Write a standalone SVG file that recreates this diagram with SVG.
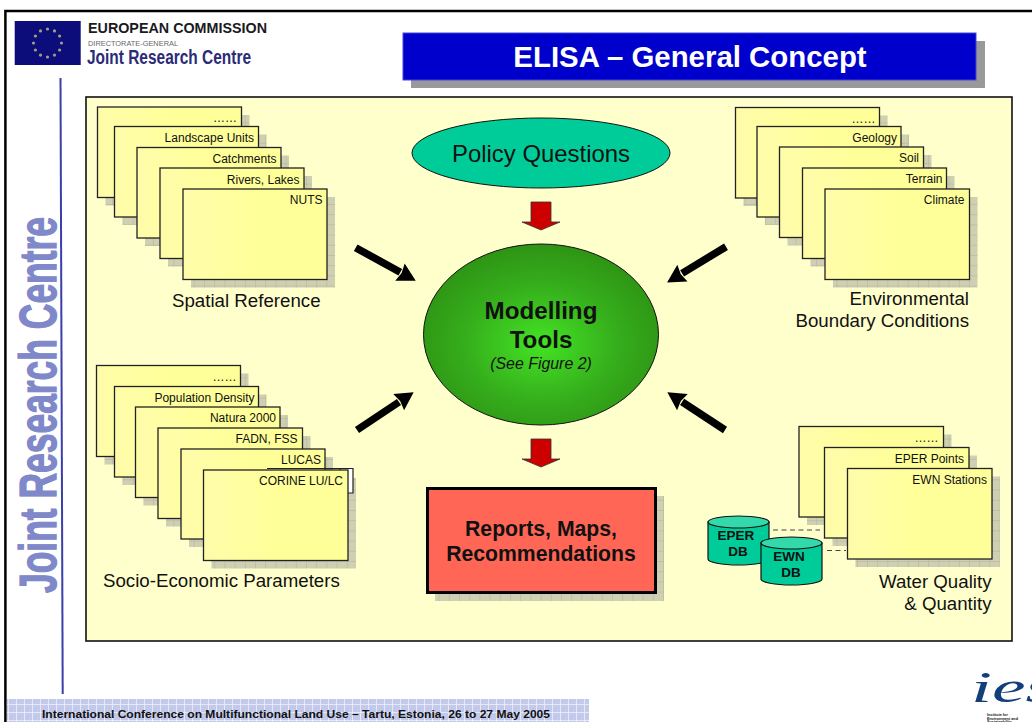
<svg xmlns="http://www.w3.org/2000/svg" width="1032" height="722" viewBox="0 0 1032 722">
<style>
text{font-family:"Liberation Sans",Arial,sans-serif;fill:#111}
.card{fill:url(#cardFill);stroke:#222;stroke-width:1.3}
.shadow{fill:url(#dither)}
.lbl{font-size:12px;text-anchor:end}
.big{font-size:18.7px}
.mid{text-anchor:middle}
.head{font-weight:bold}
.db{fill:#00cc99;stroke:#111;stroke-width:1.2}
.dbtop{fill:#33d9aa;stroke:#111;stroke-width:1.2}
.dbt{font-size:13.5px;font-weight:bold;text-anchor:middle}
.red{fill:#cc0000;stroke:#333;stroke-width:.8}
.blk{stroke:#000;stroke-width:7.5;fill:none;marker-end:url(#ah)}
.dash{stroke:#444;stroke-width:1;stroke-dasharray:5 3.5;fill:none}
</style>
<defs>
<linearGradient id="cardFill" x1="0" y1="0" x2="1" y2="0"><stop offset="0" stop-color="#fffcaa"/><stop offset=".5" stop-color="#ffff99"/><stop offset="1" stop-color="#ffff99"/></linearGradient>
<radialGradient id="greenFill" cx=".5" cy=".55" r=".55"><stop offset="0" stop-color="#44e324"/><stop offset=".6" stop-color="#35ad1c"/><stop offset="1" stop-color="#2e9414"/></radialGradient>
<pattern id="dither" width="10.2" height="10.2" patternUnits="userSpaceOnUse"><rect width="10.2" height="10.2" fill="#cfcfb2"/><path d="M0 .4H10.2M.4 0V10.2" stroke="#b4b4a4" stroke-width=".6"/></pattern>
<pattern id="footer" width="8" height="8" patternUnits="userSpaceOnUse"><rect width="8" height="8" fill="#c3c9ea"/><path d="M0 .5H8M.5 0V8" stroke="#eef0fa" stroke-width=".8"/></pattern>
<marker id="ah" markerWidth="2.4" markerHeight="2.6" refX="0.05" refY="1.3" orient="auto" markerUnits="strokeWidth" overflow="visible"><path d="M0 0L2.4 1.3L0 2.6L.25 1.3Z" fill="#000"/></marker>
</defs>
<rect width="1032" height="722" fill="#fff"/>
<path d="M1032 11H5.400V722" fill="none" stroke="#000" stroke-width="2.500"/>
<g id="header">
<rect x="14.700" y="21" width="66" height="44" fill="#0c0c7a"/>
<g fill="#a0a080">
<circle cx="47.500" cy="29" r="1.600"/><circle cx="54.500" cy="30.900" r="1.600"/><circle cx="59.600" cy="36" r="1.600"/><circle cx="61.500" cy="43" r="1.600"/><circle cx="59.600" cy="50" r="1.600"/><circle cx="54.500" cy="55.100" r="1.600"/><circle cx="47.500" cy="57" r="1.600"/><circle cx="40.500" cy="55.100" r="1.600"/><circle cx="35.400" cy="50" r="1.600"/><circle cx="33.500" cy="43" r="1.600"/><circle cx="35.400" cy="36" r="1.600"/><circle cx="40.500" cy="30.900" r="1.600"/>
</g>
<text x="88" y="33" font-size="15" font-weight="bold" textLength="179" lengthAdjust="spacingAndGlyphs" style="fill:#1a1a22">EUROPEAN COMMISSION</text>
<text x="88" y="46" font-size="7.500" textLength="90" lengthAdjust="spacingAndGlyphs" style="fill:#666">DIRECTORATE-GENERAL</text>
<text x="87" y="64" font-size="19.500" font-weight="bold" textLength="164" lengthAdjust="spacingAndGlyphs" style="fill:#2b2b78">Joint Research Centre</text>
</g>
<g id="title">
<rect x="411" y="41" width="574" height="47" fill="#999"/>
<rect x="403" y="33" width="573" height="47" fill="#0000cc" stroke="#4444dd"/>
<text class="mid head" x="690" y="67" font-size="29.400" style="fill:#fff">ELISA – General Concept</text>
</g>
<g id="sidebar">
<text transform="translate(56 593) rotate(-90)" font-size="51" font-weight="bold" textLength="376" lengthAdjust="spacingAndGlyphs" style="fill:#7f88c9;stroke:#7f88c9;stroke-width:1.300">Joint Research Centre</text>
<line x1="60.500" y1="78" x2="62.700" y2="694" stroke="#3b3fa8" stroke-width="2"/>
</g>
<rect id="panel" x="86" y="97" width="926" height="544" fill="#ffffcc" stroke="#111" stroke-width="1.600"/>

<g id="spatial">
<rect class="shadow" x="105.500" y="115" width="144" height="90.500"/><rect class="card" x="97.500" y="107" width="144" height="90.500"/><text class="lbl" x="237" y="122">……</text>
<rect class="shadow" x="122.500" y="134.500" width="144" height="90.500"/><rect class="card" x="114.500" y="126.500" width="144" height="90.500"/><text class="lbl" x="254" y="142">Landscape Units</text>
<rect class="shadow" x="145" y="155.500" width="144" height="90.500"/><rect class="card" x="137" y="147.500" width="144" height="90.500"/><text class="lbl" x="276.500" y="163">Catchments</text>
<rect class="shadow" x="168" y="176" width="144" height="90.500"/><rect class="card" x="160" y="168" width="144" height="90.500"/><text class="lbl" x="299.500" y="184">Rivers, Lakes</text>
<rect class="shadow" x="191" y="197" width="144" height="90.500"/><rect class="card" x="183" y="189" width="144" height="90.500"/><text class="lbl" x="322.500" y="204">NUTS</text>
<text class="big" x="172" y="307">Spatial Reference</text>
</g>
<g id="environmental">
<rect class="shadow" x="743.500" y="115.500" width="144" height="90.500"/><rect class="card" x="735.500" y="107.500" width="144" height="90.500"/><text class="lbl" x="875.500" y="122.500">……</text>
<rect class="shadow" x="765" y="134.500" width="144" height="90.500"/><rect class="card" x="757" y="126.500" width="144" height="90.500"/><text class="lbl" x="897" y="141.500">Geology</text>
<rect class="shadow" x="787.500" y="155" width="144" height="90.500"/><rect class="card" x="779.500" y="147" width="144" height="90.500"/><text class="lbl" x="919" y="162">Soil</text>
<rect class="shadow" x="810.500" y="176" width="144" height="90.500"/><rect class="card" x="802.500" y="168" width="144" height="90.500"/><text class="lbl" x="942.500" y="183">Terrain</text>
<rect class="shadow" x="833" y="197" width="144.500" height="90.500"/><rect class="card" x="825" y="189" width="144.500" height="90.500"/><text class="lbl" x="964.500" y="204">Climate</text>
<text class="big" x="969" y="305" text-anchor="end">Environmental</text>
<text class="big" x="969" y="327" text-anchor="end">Boundary Conditions</text>
</g>
<g id="socio">
<rect class="shadow" x="104.500" y="373.500" width="144" height="91"/><rect class="card" x="96.500" y="365.500" width="144" height="91"/><text class="lbl" x="236.500" y="381">……</text>
<rect class="shadow" x="122.500" y="394.500" width="144" height="90.500"/><rect class="card" x="114.500" y="386.500" width="144" height="90.500"/><text class="lbl" x="254.500" y="402">Population Density</text>
<rect class="shadow" x="143.500" y="415" width="144.500" height="90.500"/><rect class="card" x="135.500" y="407" width="144.500" height="90.500"/><text class="lbl" x="276" y="422">Natura 2000</text>
<rect class="shadow" x="166" y="436" width="144.500" height="90.500"/><rect class="card" x="158" y="428" width="144.500" height="90.500"/><text class="lbl" x="297.500" y="443">FADN, FSS</text>
<rect class="shadow" x="189" y="457" width="144" height="90"/><rect class="card" x="181" y="449" width="144" height="90"/><text class="lbl" x="321" y="464">LUCAS</text>
<rect class="shadow" x="211.500" y="478" width="144.500" height="90.500"/>
<path d="M267 468.500H353V493H340V468.500" fill="#fff" stroke="#222" stroke-width="1.200"/>
<rect class="card" x="203.500" y="470" width="144.500" height="90.500"/><text class="lbl" x="343" y="485">CORINE LU/LC</text>
<text class="big" x="103" y="587">Socio-Economic Parameters</text>
</g>
<g id="water">
<rect class="shadow" x="807" y="434.500" width="144.500" height="90.500"/><rect class="card" x="799" y="426.500" width="144.500" height="90.500"/><text class="lbl" x="938.500" y="442">……</text>
<rect class="shadow" x="832.500" y="455.500" width="144.500" height="90.500"/><rect class="card" x="824.500" y="447.500" width="144.500" height="90.500"/><text class="lbl" x="964" y="463">EPER Points</text>
<rect class="shadow" x="855.500" y="476.500" width="144.500" height="90.500"/><rect class="card" x="847.500" y="468.500" width="144.500" height="90.500"/><text class="lbl" x="987" y="484">EWN Stations</text>
<text class="big" x="991.500" y="588" text-anchor="end">Water Quality</text>
<text class="big" x="991.500" y="610" text-anchor="end">&amp; Quantity</text>
</g>
<g id="connectors">
<line class="dash" x1="773" y1="530" x2="820" y2="530"/>
<line class="dash" x1="827" y1="550.500" x2="846" y2="550.500"/>
<polygon class="red" points="531,202 551,202 551,222 560,222 541,230 522,222 531,222"/>
<polygon class="red" points="531,439 551,439 551,459 560,459 541,467 522,459 531,459"/>
<line class="blk" x1="355.700" y1="247.700" x2="400.300" y2="272.300"/>
<line class="blk" x1="726" y1="246.700" x2="682.100" y2="273.400"/>
<line class="blk" x1="357" y1="430" x2="399" y2="402"/>
<line class="blk" x1="725" y1="430" x2="682.100" y2="401.900"/>
</g>
<g id="eper-db">
<path class="db" d="M708 522V559A30.500 6 0 0 0 769 559V522Z"/><ellipse class="dbtop" cx="738.500" cy="522" rx="30.500" ry="6"/>
<text class="dbt" x="736" y="540">EPER</text><text class="dbt" x="738" y="556">DB</text>
</g>
<g id="ewn-db">
<path class="db" d="M761 543V579A30.500 6 0 0 0 822 579V543Z"/><ellipse class="dbtop" cx="791.500" cy="543" rx="30.500" ry="6"/>
<text class="dbt" x="789" y="561">EWN</text><text class="dbt" x="791" y="577">DB</text>
</g>
<g id="policy">
<ellipse cx="541" cy="153" rx="129" ry="35" fill="#00cc99" stroke="#111" stroke-width="1"/>
<text class="mid" x="541" y="161.500" font-size="23.900">Policy Questions</text>
</g>
<g id="modelling">
<ellipse cx="541" cy="334.500" rx="117.500" ry="90.500" fill="url(#greenFill)" stroke="#111" stroke-width="1"/>
<text class="mid head" x="541" y="319" font-size="24.200">Modelling</text>
<text class="mid head" x="541" y="348" font-size="24.200">Tools</text>
<text class="mid" x="541" y="369" font-size="15.900" font-style="italic">(See Figure 2)</text>
</g>
<g id="reports">
<rect class="shadow" x="435" y="496" width="229" height="105"/>
<rect x="427.500" y="488.500" width="228" height="104" fill="#ff6655" stroke="#000" stroke-width="3"/>
<text class="mid head" x="541" y="535.500" font-size="21.200">Reports, Maps,</text>
<text class="mid head" x="541" y="560.500" font-size="21.200">Recommendations</text>
</g>
<g id="footer-bar">
<rect x="7" y="699" width="582" height="23" fill="url(#footer)"/>
<text x="42" y="718" font-size="10.300" font-weight="bold" textLength="508" lengthAdjust="spacingAndGlyphs">International Conference on Multifunctional Land Use – Tartu, Estonia, 26 to 27 May 2005</text>
</g>
<g id="ies-logo">
<text x="971" y="702" font-size="44" font-style="italic" textLength="84" lengthAdjust="spacingAndGlyphs" style="font-family:'Liberation Serif',serif;fill:#123f7a">ies</text>
<g font-size="3.800" font-weight="bold"><text x="987" y="716">Institute for</text><text x="987" y="719.500">Environment and</text><text x="987" y="723">Sustainability</text></g>
</g>
</svg>
